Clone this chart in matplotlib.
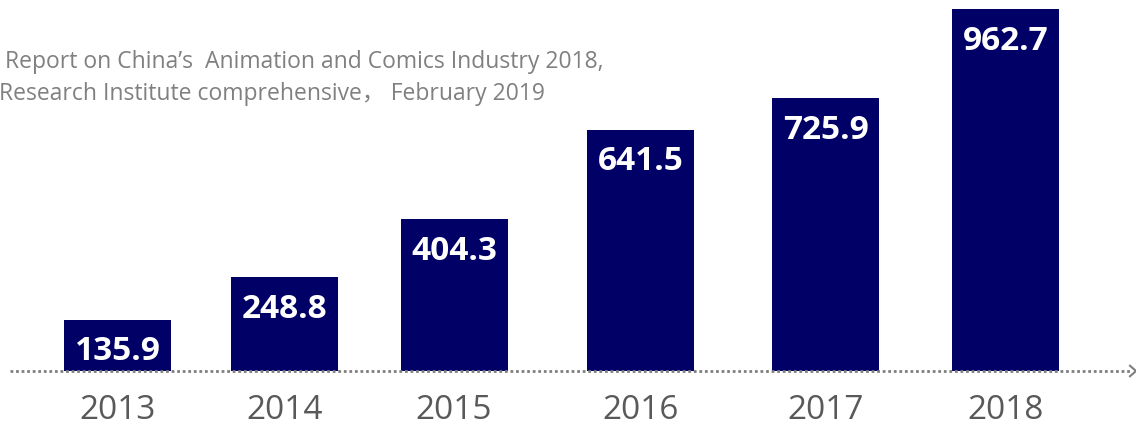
import matplotlib
matplotlib.use("Agg")
import matplotlib.pyplot as plt

# Output value by year
years = ["2013", "2014", "2015", "2016", "2017", "2018"]
values = [135.9, 248.8, 404.3, 641.5, 725.9, 962.7]
source_lines = [
    "Report on China\u2019s  Animation and Comics Industry 2018,",
    "Research Institute comprehensive\uff0c February 2019",
]

# Layout (pixel-based axis)
W, H = 1136, 427
centers = [117.5, 284.5, 454, 640.5, 825.5, 1005.5]
bar_w = 107
base_px = 55          # baseline height above bottom edge
ppu = 0.376           # pixels per value unit

bar_color = "#000066"
axis_gray = "#7f7f7f"

fig = plt.figure(figsize=(W / 100, H / 100), dpi=100)
ax = fig.add_axes([0, 0, 1, 1])
ax.set_xlim(0, W)
ax.set_ylim(-base_px / ppu, (H - base_px) / ppu)
ax.axis("off")

ax.bar(centers, values, width=bar_w, color=bar_color, zorder=2)

# dotted baseline with open arrow head
ax.plot([10, 1131], [0, 0], linestyle=(0, (1, 1)), color=axis_gray,
        linewidth=2, zorder=3)
ax.plot([1130, 1136, 1130], [14, 0, -14], color=axis_gray, linewidth=1.5,
        zorder=3, clip_on=False)

for x, v, yr in zip(centers, values, years):
    ax.annotate(f"{v:.1f}", xy=(x, v), xytext=(0, -10.5), textcoords="offset points",
                ha="center", va="top", color="white", fontsize=24,
                fontweight="bold", family=["Open Sans", "DejaVu Sans"], zorder=4)
    ax.annotate(yr, xy=(x, 0), xytext=(0, -28), textcoords="offset points",
                ha="center", va="center", color="#595959", fontsize=24,
                family=["Open Sans", "DejaVu Sans"])

fam = ["Open Sans", "Noto Sans CJK SC", "DejaVu Sans"]
fig.text(5 / W, 1 - 68 / H, source_lines[0], ha="left", va="baseline",
         color="#808080", fontsize=16.5, family=fam)
fig.text(-1 / W, 1 - 100 / H, source_lines[1], ha="left", va="baseline",
         color="#808080", fontsize=16.5, family=fam)

fig.savefig("out.png", dpi=100)
